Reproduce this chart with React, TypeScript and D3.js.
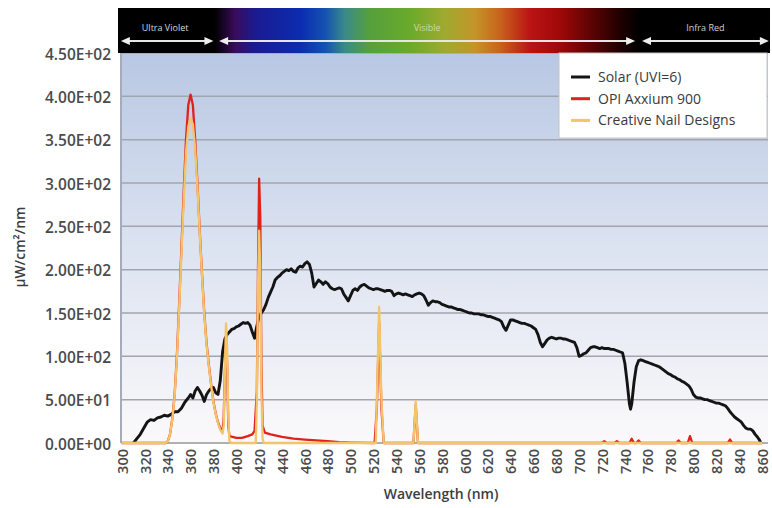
import React, { useRef, useEffect } from 'react';
import * as d3 from 'd3';

// [wavelength nm, µW/cm²/nm]
const solar: [number, number][] = [
  [310, 0], [313, 5], [316, 10], [319, 17], [322, 24], [325, 27], [328, 26], [331, 29], [334, 30],
  [337, 32], [340, 31], [343, 33], [346, 36], [349, 36], [352, 40], [355, 47], [358, 52], [360, 56],
  [362, 52], [364, 60], [366, 64], [368, 60], [370, 55], [372, 48], [374, 56], [376, 60], [378, 63],
  [380, 64], [382, 58], [384, 56], [386, 72], [388, 105], [390, 120], [392, 125], [394, 128], [396, 131],
  [398, 132], [400, 134], [402, 135], [404, 137], [406, 139], [408, 138], [410, 139], [412, 136],
  [414, 128], [416, 121], [418, 135], [420, 146], [422, 150], [424, 154], [426, 160], [428, 168],
  [430, 174], [432, 180], [434, 188], [436, 191], [438, 193], [440, 196], [442, 198], [444, 200],
  [446, 199], [448, 201], [450, 198], [452, 197], [454, 202], [456, 204], [458, 203], [460, 207],
  [462, 209], [464, 206], [466, 196], [468, 180], [470, 184], [472, 188], [474, 186], [476, 183],
  [478, 186], [480, 184], [482, 180], [484, 178], [486, 177], [488, 178], [490, 179], [492, 178],
  [494, 172], [496, 168], [498, 164], [500, 170], [502, 176], [504, 178], [506, 176], [508, 180],
  [510, 182], [512, 183], [514, 181], [516, 179], [518, 178], [520, 177], [522, 178], [524, 178],
  [526, 177], [528, 176], [530, 175], [532, 176], [534, 176], [536, 175], [538, 170], [540, 172],
  [542, 173], [544, 172], [546, 171], [548, 172], [550, 171], [552, 170], [554, 169], [556, 171],
  [558, 172], [560, 173], [562, 172], [564, 170], [566, 165], [568, 159], [570, 162], [572, 164],
  [574, 163], [576, 163], [578, 162], [580, 160], [582, 159], [584, 158], [586, 157], [588, 157],
  [590, 156], [592, 155], [594, 154], [596, 154], [598, 153], [600, 152], [602, 151], [604, 150],
  [606, 150], [608, 149], [610, 149], [612, 149], [614, 148], [616, 148], [618, 147], [620, 146],
  [622, 146], [624, 145], [626, 144], [628, 143], [630, 142], [632, 140], [634, 134], [636, 130],
  [638, 136], [640, 142], [642, 142], [644, 141], [646, 140], [648, 139], [650, 138], [652, 138],
  [654, 137], [656, 136], [658, 135], [660, 133], [662, 131], [664, 125], [666, 116], [668, 111],
  [670, 115], [672, 119], [674, 121], [676, 122], [678, 121], [680, 120], [682, 121], [684, 121],
  [686, 120], [688, 120], [690, 119], [692, 118], [694, 117], [696, 116], [698, 110], [700, 100],
  [702, 101], [704, 103], [706, 104], [708, 107], [710, 110], [712, 111], [714, 111], [716, 110],
  [718, 109], [720, 110], [722, 109], [724, 109], [726, 109], [728, 108], [730, 108], [732, 107],
  [734, 106], [736, 105], [738, 104], [740, 92], [742, 70], [744, 45], [745, 39], [746, 45],
  [748, 70], [750, 88], [752, 95], [754, 96], [756, 95], [758, 94], [760, 93], [762, 92], [764, 91],
  [766, 90], [768, 89], [770, 88], [772, 86], [774, 84], [776, 82], [778, 80], [780, 79], [782, 77],
  [784, 76], [786, 74], [788, 73], [790, 71], [792, 70], [794, 68], [796, 66], [798, 62], [800, 56],
  [802, 53], [804, 52], [806, 52], [808, 51], [810, 50], [812, 50], [814, 49], [816, 48], [818, 47],
  [820, 46], [822, 46], [824, 45], [826, 44], [828, 43], [830, 40], [832, 36], [834, 33], [836, 30],
  [838, 28], [840, 26], [842, 24], [844, 20], [846, 17], [848, 16], [850, 16], [852, 14], [854, 10],
  [856, 7], [858, 3], [859, 0],
];

const opi: [number, number][] = [
  [300, 0], [338, 0], [340, 2], [342, 10], [344, 28], [346, 55], [348, 100], [350, 160], [352, 225],
  [354, 290], [356, 350], [358, 390], [360, 402], [362, 390], [364, 350], [366, 300], [368, 245],
  [370, 195], [372, 150], [374, 115], [376, 90], [378, 68], [380, 48], [382, 34], [384, 24],
  [386, 17], [388, 14], [389, 30], [390, 80], [391, 120], [392, 90], [393, 20], [394, 8], [400, 6],
  [405, 6], [410, 8], [414, 10], [416, 14], [418, 60], [419, 200], [420, 305], [421, 260],
  [422, 90], [423, 20], [425, 12], [430, 10], [440, 7], [450, 5], [460, 4], [470, 3], [480, 2],
  [490, 1], [500, 0.5], [521, 0], [523, 40], [525, 140], [527, 40], [529, 0], [555, 0], [557, 44],
  [559, 0], [720, 0], [722, 2], [724, 0], [731, 0], [733, 2], [735, 0], [744, 0], [746, 5],
  [748, 0], [750, 0], [752, 3], [754, 0], [785, 0], [787, 3], [789, 0], [795, 0], [797, 8],
  [799, 0], [830, 0], [832, 4], [834, 0], [860, 0],
];

const cnd: [number, number][] = [
  [300, 0], [338, 0], [340, 2], [342, 10], [344, 27], [346, 53], [348, 97], [350, 155], [352, 218],
  [354, 280], [356, 335], [358, 365], [360, 375], [362, 368], [364, 340], [366, 295], [368, 242],
  [370, 193], [372, 148], [374, 113], [376, 88], [378, 66], [380, 47], [382, 33], [384, 23],
  [386, 15], [388, 11], [389, 20], [390, 80], [391, 138], [392, 110], [393, 30], [394, 2],
  [396, 0], [417, 0], [418, 50], [419, 180], [420, 245], [421, 200], [422, 60], [423, 5],
  [424, 0], [522, 0], [523, 50], [525, 157], [527, 50], [529, 0], [555, 0], [557, 48],
  [559, 0], [860, 0],
];

const seriesNames = ['Solar (UVI=6)', 'OPI Axxium 900', 'Creative Nail Designs'];
const seriesColors = ['#141414', '#e0221d', '#f3c468'];

const xTicks = [300, 320, 340, 360, 380, 400, 420, 440, 460, 480, 500, 520, 540, 560, 580, 600,
  620, 640, 660, 680, 700, 720, 740, 760, 780, 800, 820, 840, 860];
const yTicks = [0, 50, 100, 150, 200, 250, 300, 350, 400, 450];

// spectrum header: regions in nm and gradient colours by nm
const regions = [
  { name: 'Ultra Violet', from: 299, to: 380, color: '#d8d8d8' },
  { name: 'Visible', from: 385, to: 749, color: '#c6dca8' },
  { name: 'Infra Red', from: 755, to: 866, color: '#d0d0d0' },
];
const spectrumStops: [number, string][] = [
  [381, '#000000'], [399, '#3a0c5c'], [416, '#1b1a90'], [456, '#0b2cb0'], [478, '#1552b0'],
  [495, '#3a8a88'], [517, '#56a03c'], [552, '#6aaa2a'], [583, '#a0aa30'], [609, '#c49428'],
  [631, '#c8621c'], [657, '#ba1414'], [683, '#a00808'], [709, '#600404'], [736, '#200000'],
  [753, '#000000'],
];

const fmt = (v: number) => {
  if (v === 0) return '0.00E+00';
  const e = Math.floor(Math.log10(v));
  return (v / Math.pow(10, e)).toFixed(2) + 'E+' + String(e).padStart(2, '0');
};

const App = () => {
  const svgRef = useRef<SVGSVGElement>(null);
  const W = 772;
  const H = 508;

  useEffect(() => {
    const svg = d3.select(svgRef.current);
    svg.selectAll('*').remove();
    const font = "'Open Sans', sans-serif";

    const left = 121, right = 768, top = 53, bottom = 443;
    const x = d3.scaleLinear().domain([300, 860]).range([122, 762]);
    const y = d3.scaleLinear().domain([0, 450]).range([bottom, top]);

    const defs = svg.append('defs');
    const bg = defs.append('linearGradient').attr('id', 'plotbg')
      .attr('x1', 0).attr('y1', 0).attr('x2', 0).attr('y2', 1);
    bg.append('stop').attr('offset', '0%').attr('stop-color', '#b8c7e3');
    bg.append('stop').attr('offset', '50%').attr('stop-color', '#dce3f1');
    bg.append('stop').attr('offset', '100%').attr('stop-color', '#fbf9fa');

    const spec = defs.append('linearGradient').attr('id', 'spectrum')
      .attr('gradientUnits', 'userSpaceOnUse')
      .attr('x1', 118).attr('x2', 770).attr('y1', 0).attr('y2', 0);
    spectrumStops.forEach(([nm, c]) => {
      spec.append('stop').attr('offset', (x(nm) - 118) / (770 - 118)).attr('stop-color', c);
    });

    // plot background
    svg.append('rect').attr('x', left).attr('y', top).attr('width', right - left)
      .attr('height', bottom - top).attr('fill', 'url(#plotbg)');

    // gridlines
    svg.append('g').selectAll('line').data(yTicks.filter((d) => d > 0)).join('line')
      .attr('x1', left).attr('x2', right)
      .attr('y1', (d) => y(d)).attr('y2', (d) => y(d))
      .attr('stroke', '#a2a5ae').attr('stroke-width', 1.5);

    // axes lines
    svg.append('line').attr('x1', left).attr('x2', left).attr('y1', top).attr('y2', bottom)
      .attr('stroke', '#a4abbb').attr('stroke-width', 2);
    svg.append('line').attr('x1', left).attr('x2', right).attr('y1', bottom).attr('y2', bottom)
      .attr('stroke', '#b0b0b0').attr('stroke-width', 2);

    // spectrum header
    svg.append('rect').attr('x', 118).attr('y', 8).attr('width', 652).attr('height', 45)
      .attr('fill', 'url(#spectrum)');
    const arrowY = 41;
    regions.forEach((r) => {
      const x0 = x(r.from), x1 = Math.min(x(r.to), 769);
      const g = svg.append('g');
      g.append('line').attr('x1', x0 + 6).attr('x2', x1 - 6).attr('y1', arrowY).attr('y2', arrowY)
        .attr('stroke', '#e6e6e6').attr('stroke-width', 2);
      g.append('path').attr('d', `M${x0},${arrowY} l9,-4 l0,8 z`).attr('fill', '#eeeeee');
      g.append('path').attr('d', `M${x1},${arrowY} l-9,-4 l0,8 z`).attr('fill', '#eeeeee');
      g.append('text').attr('x', (x0 + x1) / 2 + (r.name === 'Ultra Violet' ? -2 : 0)).attr('y', 31)
        .attr('text-anchor', 'middle').attr('font-family', font).attr('font-size', 9)
        .attr('fill', r.color).text(r.name);
    });

    // y axis labels
    const yAxis = d3.axisLeft(y).tickValues(yTicks).tickSize(0).tickPadding(10).tickFormat((d) => fmt(+d));
    const yg = svg.append('g').attr('transform', `translate(${left},0)`).call(yAxis);
    yg.select('.domain').remove();
    yg.selectAll('text').attr('font-family', font).attr('font-size', 15.5).attr('font-weight', 600)
      .attr('fill', '#4a4a4a').attr('dy', '0.4em');

    // x axis labels
    const xAxis = d3.axisBottom(x).tickValues(xTicks).tickSize(0).tickFormat((d) => String(d));
    const xg = svg.append('g').attr('transform', `translate(0,${bottom})`).call(xAxis);
    xg.select('.domain').remove();
    xg.selectAll('text').attr('font-family', font).attr('font-size', 14.5).attr('font-weight', 600)
      .attr('fill', '#4a4a4a').attr('transform', 'rotate(-90)')
      .attr('x', -6).attr('y', 0).attr('dy', '0.36em').attr('text-anchor', 'end');

    // axis titles
    svg.append('text').attr('x', 441).attr('y', 499).attr('text-anchor', 'middle')
      .attr('font-family', font).attr('font-size', 14).attr('font-weight', 600).attr('fill', '#3c3c3c')
      .text('Wavelength (nm)');
    svg.append('text').attr('transform', 'translate(25,247) rotate(-90)').attr('text-anchor', 'middle')
      .attr('font-family', font).attr('font-size', 14).attr('font-weight', 600).attr('fill', '#3c3c3c')
      .text('µW/cm²/nm');

    // series
    const line = d3.line<[number, number]>().x((d) => x(d[0])).y((d) => y(d[1]));
    [solar, opi, cnd].forEach((s, i) => {
      svg.append('path').datum(s).attr('d', line).attr('fill', 'none')
        .attr('stroke', seriesColors[i]).attr('stroke-width', i === 0 ? 2.9 : 2.3)
        .attr('stroke-linejoin', 'round');
    });

    // legend
    const lg = svg.append('g');
    lg.append('rect').attr('x', 559).attr('y', top).attr('width', 208).attr('height', 85)
      .attr('fill', '#ffffff').attr('stroke', '#c4c4c4').attr('stroke-width', 1);
    seriesNames.forEach((name, i) => {
      const yy = 77 + i * 21.7;
      lg.append('line').attr('x1', 571).attr('x2', 590).attr('y1', yy).attr('y2', yy)
        .attr('stroke', seriesColors[i]).attr('stroke-width', 3);
      lg.append('text').attr('x', 598).attr('y', yy).attr('dy', '0.36em')
        .attr('font-family', font).attr('font-size', 14).attr('fill', '#3a3a3a').text(name);
    });
  }, []);

  return (
    <svg ref={svgRef} width={W} height={H}
      style={{ position: 'absolute', left: 0, top: 0, background: '#ffffff' }} />
  );
};

export default App;
